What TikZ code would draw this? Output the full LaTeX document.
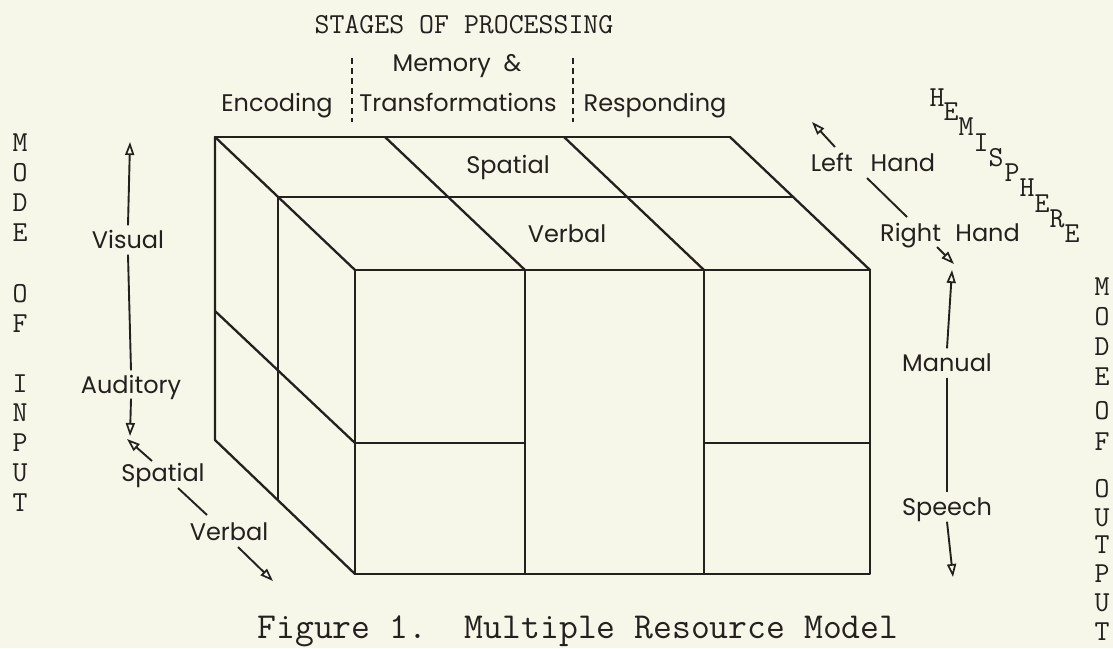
\documentclass[tikz,border=0pt]{standalone}
\usepackage{fontspec}
\setmainfont{Poppins}
\usetikzlibrary{arrows.meta}
\definecolor{paper}{RGB}{247,247,233}
\definecolor{ink}{RGB}{35,32,30}

\begin{document}
\begin{tikzpicture}[x=1pt,y=-1pt,
  edge/.style={draw=ink,line width=2.3pt,line cap=round,line join=round},
  lbl/.style={text=ink,font=\fontsize{24}{28}\selectfont,inner sep=0pt,text height=17pt,text depth=0pt},
  mono/.style={text=ink,font=\fontsize{29}{30}\selectfont\ttfamily,inner sep=0pt,text height=17.7pt,text depth=0pt},
  bigmono/.style={text=ink,font=\fontsize{36.6}{38}\selectfont\ttfamily,inner sep=0pt,text height=22.4pt,text depth=0pt},
  conn/.style={draw=ink,line width=1.9pt},
  tip/.style={conn,-{Triangle[open,length=13pt,width=9pt,line width=1.7pt]}},
  sep/.style={draw=ink,line width=2.4pt,dash pattern=on 6pt off 4pt}
]
% page
\fill[paper] (0,0) rectangle (1113,648);
\useasboundingbox (0,0) rectangle (1113,648);

% ---------- block of resources ----------
% top face
\draw[edge] (215,137) -- (730,137);
\draw[edge] (278,197) -- (793,197);
\draw[edge] (355,270) -- (870,270);
\foreach \x in {215,385,564,730}{
  \draw[edge] (\x,137) -- ++(140,133);
}
% left face
\draw[edge] (215,137) -- (215,440) -- (355,574);
\draw[edge] (278,197) -- (278,500);
\draw[edge] (215,311) -- (355,443);
% front face
\draw[edge] (355,270) rectangle (870,574);
\draw[edge] (525,270) -- (525,574);
\draw[edge] (704,270) -- (704,574);
\draw[edge] (355,443) -- (525,443);
\draw[edge] (704,443) -- (870,443);

% cell labels on the top face
\node[lbl] (tspatial) at (508,165) {Spatial};
\node[lbl] (tverbal) at (567,234) {Verbal};

% ---------- stages of processing ----------
\node[mono] (stages) at (464,25) {STAGES OF PROCESSING};
\node[lbl] (memory) at (457,63) {Memory \ \&};
\node[lbl] (encoding) at (277,103) {Encoding};
\node[lbl] (transf) at (458,103) {Transformations};
\node[lbl] (resp) at (655,103) {Responding};
\draw[sep] (352,58) -- (352,122);
\draw[sep] (573,58) -- (573,122);

% ---------- mode of input ----------
\foreach \c/\y in {M/143,O/173,D/203,E/233,O/294,F/324,I/384,N/413,P/443,U/473,T/503}{
  \node[mono] at (20,\y) {\c};
}
\node[lbl] (visual) at (128,240) {Visual};
\node[lbl] (auditory) at (131,385) {Auditory};
\coordinate (vistop) at (130,142);
\coordinate (audbot) at (130,436);
\draw[tip] ([yshift=6pt]visual.north) -- (vistop);
\draw[conn] ([yshift=-6pt]visual.south) -- ([yshift=6pt]auditory.north);
\draw[tip] ([yshift=-5pt]auditory.south) -- (audbot);

\node[lbl] (lspatial) at (163,473) {Spatial};
\node[lbl] (lverbal) at (229,532) {Verbal};
\coordinate (sptip) at (127,439);
\coordinate (vbtip) at (273,581);
\coordinate (sp1) at (152,461);
\coordinate (sp2) at (178,488);
\coordinate (vb1) at (207,515);
\coordinate (vb2) at (238,547);
\draw[tip] (sp1) -- (sptip);
\draw[conn] (sp2) -- (vb1);
\draw[tip] (vb2) -- (vbtip);

% ---------- hemisphere ----------
\node[lbl] (lhand) at (873,163) {Left\hspace{0.75em}Hand};
\node[lbl] (rhand) at (950,233) {Right\hspace{0.6em}Hand};
\coordinate (lhtip) at (812,122);
\coordinate (rhtip) at (954,264);
\draw[tip] (835,147) -- (lhtip);
\draw[conn] (867,178) -- (907,217);
\draw[tip] (937,247) -- (rhtip);
\foreach \c/\x/\y in {H/937/98,E/951/112,M/966/127,I/981/143,S/996/158,P/1012/173,H/1027/188,E/1042/204,R/1057/219,E/1072/234}{
  \node[mono] at (\x,\y) {\c};
}

% ---------- mode of output ----------
\node[lbl] (manual) at (947,363) {Manual};
\node[lbl] (speech) at (947,507) {Speech};
\coordinate (mantip) at (952,270);
\coordinate (spbot) at (953,577);
\draw[tip] ([yshift=6pt]manual.north) -- (mantip);
\draw[conn] ([yshift=-6pt]manual.south) -- ([yshift=6pt]speech.north);
\draw[tip] ([yshift=-6pt]speech.south) -- (spbot);
\foreach \c/\y in {M/287,O/317,D/347,E/377,O/411,F/442,O/489,U/518,T/545,P/574,U/603,T/632}{
  \node[mono] at (1102,\y) {\c};
}

% ---------- caption ----------
\node[bigmono] (caption) at (578,627) {Figure 1.\ \ Multiple Resource Model};
\end{tikzpicture}
\end{document}
